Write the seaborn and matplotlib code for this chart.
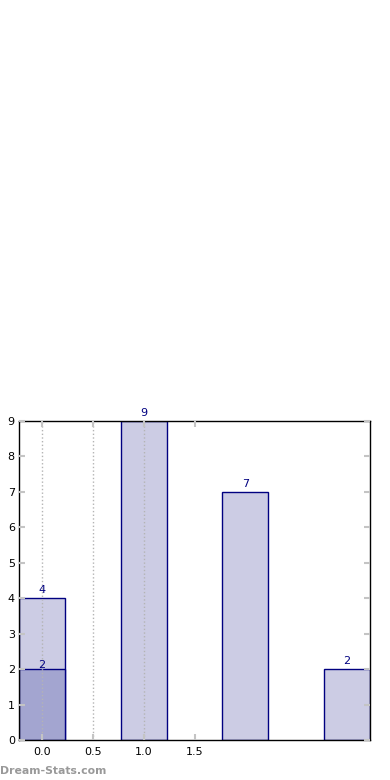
import matplotlib
matplotlib.use("Agg")
import matplotlib.pyplot as plt
import seaborn as sns
import pandas as pd

categories = ["0", "1", "2", "3"]
values = [4, 9, 7, 2]
overlay_categories = ["0"]
overlay_values = [2]
xtick_positions = [0.0, 0.5, 1.0, 1.5]
xtick_labels = ["0.0", "0.5", "1.0", "1.5"]
ytick_positions = list(range(0, 10))

sns.set_style("white")
plt.rcParams["font.family"] = ["DejaVu Sans"]

fig = plt.figure(figsize=(3.9, 7.8), dpi=100)
ax = fig.add_axes([19 / 390, 1 - 740 / 780, 351 / 390, 319 / 780])

light = "#cccce4"
dark = "#a3a5d0"
edge = "#000080"

df = pd.DataFrame({"cat": categories, "val": values})
df2 = pd.DataFrame({"cat": overlay_categories, "val": overlay_values})

sns.barplot(data=df, x="cat", y="val", order=categories, color=light,
            saturation=1, width=0.45, edgecolor=edge, linewidth=1, ax=ax,
            errorbar=None)
sns.barplot(data=df2, x="cat", y="val", order=categories, color=dark,
            saturation=1, width=0.45, edgecolor=edge, linewidth=1, ax=ax,
            errorbar=None)

ax.bar_label(ax.containers[0], padding=2, fontsize=8, color=edge)
ax.bar_label(ax.containers[1], padding=-1, fontsize=8, color=edge)

ax.set_xlim(-0.225, 3.225)
ax.set_ylim(0, 9)
ax.set_xticks(xtick_positions)
ax.set_xticklabels(xtick_labels)
ax.set_yticks(ytick_positions)
ax.set_xlabel("")
ax.set_ylabel("")

ax.tick_params(axis="both", direction="in", length=4, width=1.5, color="#c4c4c4",
               labelsize=8, labelcolor="black", top=True, right=True,
               bottom=True, left=True)
ax.tick_params(axis="x", pad=5)
ax.tick_params(axis="y", pad=3)

for s in ax.spines.values():
    s.set_color("black")
    s.set_linewidth(1)
    s.set_visible(True)

ax.set_axisbelow(False)
ax.grid(axis="x", linestyle=":", color="#b4b4b4", linewidth=1)
ax.grid(axis="y", visible=False)
gls = ax.get_xgridlines()
if len(gls) >= 4:
    gls[3].set_visible(False)

fig.text(0.0, 1 - 771 / 780, "Dream-Stats.com", fontsize=7.8, color="#999999",
         fontweight="bold", va="center", ha="left")

fig.savefig("out.png", dpi=100)
